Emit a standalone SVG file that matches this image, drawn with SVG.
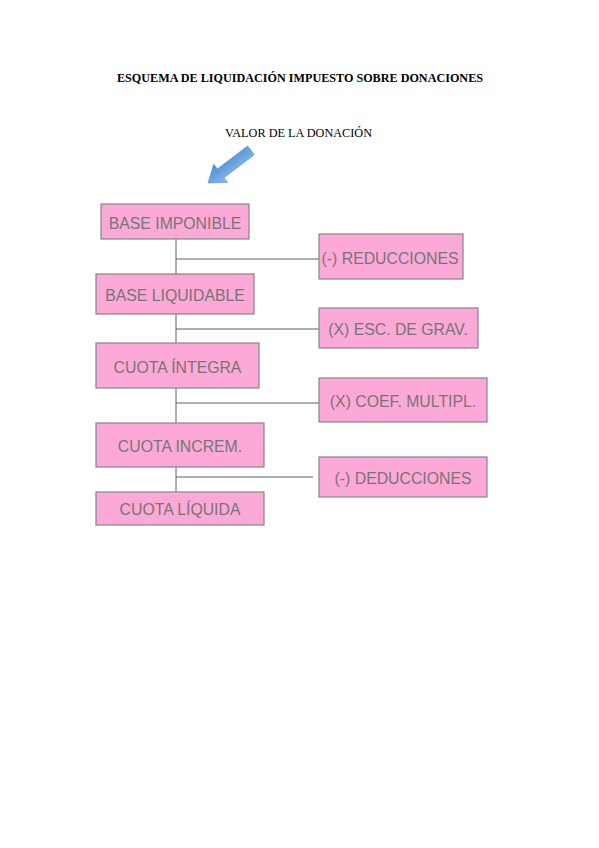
<svg xmlns="http://www.w3.org/2000/svg" width="599" height="848" viewBox="0 0 599 848">
<style>
.box{fill:#FDA9D8;stroke:#858585;stroke-width:1.2}
.lbl{font-family:"Liberation Sans",Arial,sans-serif;font-size:15.8px;fill:#757575;text-anchor:middle}
.con{stroke:#606060;stroke-width:1;fill:none}
.ttl{font-family:"Liberation Serif","Times New Roman",serif;fill:#000}
</style>
<defs>
<linearGradient id="ag" x1="0" y1="0" x2="0" y2="1">
<stop offset="0" stop-color="#8DBEEB"/>
<stop offset="1" stop-color="#4A8AD6"/>
</linearGradient>
</defs>
<rect width="599" height="848" fill="#fff"/>
<text class="ttl" x="117" y="82" font-size="12.5" font-weight="bold" textLength="366" lengthAdjust="spacingAndGlyphs">ESQUEMA DE LIQUIDACIÓN IMPUESTO SOBRE DONACIONES</text>
<text class="ttl" x="225" y="137" font-size="12.5" textLength="147" lengthAdjust="spacingAndGlyphs">VALOR DE LA DONACIÓN</text>
<g id="arrow" transform="translate(208,183) rotate(142.7)">
<polygon points="-54,-5.5 -16,-5.5 -16,-11.5 0,0 -16,11.5 -16,5.5 -54,5.5" fill="url(#ag)" stroke="#5C93D3" stroke-width="0.6" stroke-linejoin="round"/>
</g>
<g id="connectors">
<line class="con" x1="176" y1="239" x2="176" y2="492"/>
<line class="con" x1="176" y1="259" x2="319" y2="259"/>
<line class="con" x1="176" y1="329" x2="319" y2="329"/>
<line class="con" x1="176" y1="403" x2="319" y2="403"/>
<line class="con" x1="176" y1="477" x2="313" y2="477"/>
</g>
<g id="base-imponible"><rect class="box" x="101" y="204" width="148" height="35"/><text class="lbl" x="175" y="228.5">BASE IMPONIBLE</text></g>
<g id="reducciones"><rect class="box" x="319" y="234" width="144" height="45"/><text class="lbl" x="390" y="263.5">(-) REDUCCIONES</text></g>
<g id="base-liquidable"><rect class="box" x="96" y="274" width="158" height="40"/><text class="lbl" x="175" y="301">BASE LIQUIDABLE</text></g>
<g id="esc-grav"><rect class="box" x="319" y="308" width="159" height="40"/><text class="lbl" x="398" y="335">(X) ESC. DE GRAV.</text></g>
<g id="cuota-integra"><rect class="box" x="96" y="343" width="163" height="45"/><text class="lbl" x="177.5" y="372.5">CUOTA ÍNTEGRA</text></g>
<g id="coef-multipl"><rect class="box" x="319" y="378" width="168" height="44"/><text class="lbl" x="403" y="407">(X) COEF. MULTIPL.</text></g>
<g id="cuota-increm"><rect class="box" x="96" y="423" width="168" height="44"/><text class="lbl" x="180" y="452">CUOTA INCREM.</text></g>
<g id="deducciones"><rect class="box" x="319" y="457" width="168" height="40"/><text class="lbl" x="403" y="484">(-) DEDUCCIONES</text></g>
<g id="cuota-liquida"><rect class="box" x="96" y="492" width="168" height="33"/><text class="lbl" x="180" y="515">CUOTA LÍQUIDA</text></g>
</svg>
